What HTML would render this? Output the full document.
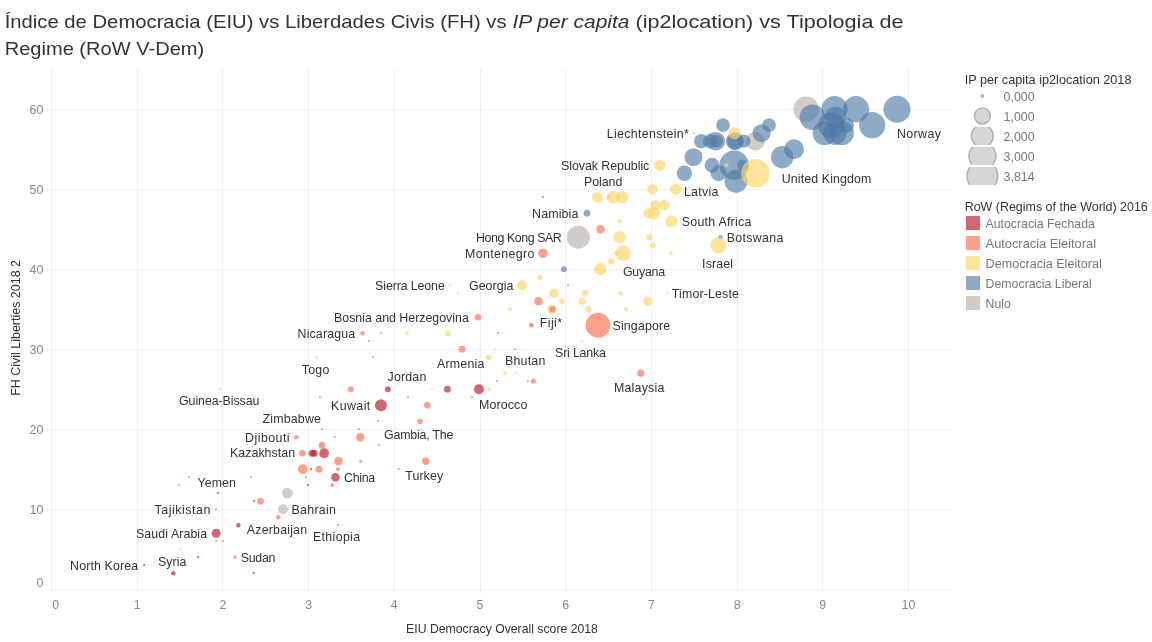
<!DOCTYPE html><html><head><meta charset="utf-8"><style>html,body{margin:0;padding:0;background:#fff;}svg{display:block;will-change:transform;}text{font-family:"Liberation Sans",sans-serif;}</style></head><body>
<svg width="1152" height="642" viewBox="0 0 1152 642">
<rect width="1152" height="642" fill="#fff"/>
<text y="27.8" font-size="19" fill="#333"><tspan x="4.7" textLength="507.5" lengthAdjust="spacingAndGlyphs">Índice de Democracia (EIU) vs Liberdades Civis (FH) vs </tspan><tspan x="512.5" font-style="italic" textLength="117" lengthAdjust="spacingAndGlyphs">IP per capita</tspan><tspan x="629.5" textLength="274" lengthAdjust="spacingAndGlyphs"> (ip2location) vs Tipologia de</tspan></text>
<text x="4.7" y="54.7" font-size="19" fill="#333" textLength="199.5" lengthAdjust="spacingAndGlyphs">Regime (RoW V-Dem)</text>
<line x1="51.5" y1="69" x2="51.5" y2="594" stroke="#f0f0f0" stroke-width="1"/>
<line x1="137.5" y1="69" x2="137.5" y2="594" stroke="#f0f0f0" stroke-width="1"/>
<line x1="222.5" y1="69" x2="222.5" y2="594" stroke="#f0f0f0" stroke-width="1"/>
<line x1="308.5" y1="69" x2="308.5" y2="594" stroke="#f0f0f0" stroke-width="1"/>
<line x1="394.5" y1="69" x2="394.5" y2="594" stroke="#f0f0f0" stroke-width="1"/>
<line x1="480.5" y1="69" x2="480.5" y2="594" stroke="#f0f0f0" stroke-width="1"/>
<line x1="565.5" y1="69" x2="565.5" y2="594" stroke="#f0f0f0" stroke-width="1"/>
<line x1="651.5" y1="69" x2="651.5" y2="594" stroke="#f0f0f0" stroke-width="1"/>
<line x1="737.5" y1="69" x2="737.5" y2="594" stroke="#f0f0f0" stroke-width="1"/>
<line x1="822.5" y1="69" x2="822.5" y2="594" stroke="#f0f0f0" stroke-width="1"/>
<line x1="908.5" y1="69" x2="908.5" y2="594" stroke="#f0f0f0" stroke-width="1"/>
<line x1="46" y1="589.5" x2="954" y2="589.5" stroke="#f0f0f0" stroke-width="1"/>
<line x1="46" y1="509.5" x2="954" y2="509.5" stroke="#f0f0f0" stroke-width="1"/>
<line x1="46" y1="429.5" x2="954" y2="429.5" stroke="#f0f0f0" stroke-width="1"/>
<line x1="46" y1="349.5" x2="954" y2="349.5" stroke="#f0f0f0" stroke-width="1"/>
<line x1="46" y1="269.5" x2="954" y2="269.5" stroke="#f0f0f0" stroke-width="1"/>
<line x1="46" y1="189.5" x2="954" y2="189.5" stroke="#f0f0f0" stroke-width="1"/>
<line x1="46" y1="109.5" x2="954" y2="109.5" stroke="#f0f0f0" stroke-width="1"/>
<text x="43.4" y="586.5" font-size="12.4" fill="#888" text-anchor="end">0</text>
<text x="43.4" y="514.0" font-size="12.4" fill="#888" text-anchor="end">10</text>
<text x="43.4" y="434.0" font-size="12.4" fill="#888" text-anchor="end">20</text>
<text x="43.4" y="354.0" font-size="12.4" fill="#888" text-anchor="end">30</text>
<text x="43.4" y="274.0" font-size="12.4" fill="#888" text-anchor="end">40</text>
<text x="43.4" y="194.0" font-size="12.4" fill="#888" text-anchor="end">50</text>
<text x="43.4" y="114.0" font-size="12.4" fill="#888" text-anchor="end">60</text>
<text x="55.8" y="609" font-size="12.4" fill="#888" text-anchor="middle">0</text>
<text x="137.2" y="609" font-size="12.4" fill="#888" text-anchor="middle">1</text>
<text x="222.9" y="609" font-size="12.4" fill="#888" text-anchor="middle">2</text>
<text x="308.6" y="609" font-size="12.4" fill="#888" text-anchor="middle">3</text>
<text x="394.3" y="609" font-size="12.4" fill="#888" text-anchor="middle">4</text>
<text x="480.0" y="609" font-size="12.4" fill="#888" text-anchor="middle">5</text>
<text x="565.7" y="609" font-size="12.4" fill="#888" text-anchor="middle">6</text>
<text x="651.4" y="609" font-size="12.4" fill="#888" text-anchor="middle">7</text>
<text x="737.1" y="609" font-size="12.4" fill="#888" text-anchor="middle">8</text>
<text x="822.8" y="609" font-size="12.4" fill="#888" text-anchor="middle">9</text>
<text x="908.5" y="609" font-size="12.4" fill="#888" text-anchor="middle">10</text>
<text x="502" y="632.5" font-size="12.4" fill="#333" text-anchor="middle" textLength="191.8" lengthAdjust="spacingAndGlyphs">EIU Democracy Overall score 2018</text>
<text transform="translate(20,395.8) rotate(-90)" x="0" y="0" font-size="12.4" fill="#333" textLength="135.8" lengthAdjust="spacingAndGlyphs">FH Civil Liberties 2018 2</text>
<circle cx="287.4" cy="493.20000000000005" r="5.4" fill="#BAB0AC" fill-opacity="0.65"/>
<circle cx="283.0" cy="509.20000000000005" r="4.9" fill="#BAB0AC" fill-opacity="0.65"/>
<circle cx="578.3" cy="237.20000000000005" r="11.5" fill="#BAB0AC" fill-opacity="0.65"/>
<circle cx="694.0" cy="133.20000000000005" r="1.1" fill="#BAB0AC" fill-opacity="0.65"/>
<circle cx="755.4" cy="141.20000000000005" r="9.35" fill="#BAB0AC" fill-opacity="0.65"/>
<circle cx="806.2" cy="109.20000000000005" r="12.8" fill="#BAB0AC" fill-opacity="0.65"/>
<circle cx="563.9" cy="269.20000000000005" r="2.9" fill="#4E79A7" fill-opacity="0.63"/>
<circle cx="587.0" cy="213.20000000000005" r="3.4" fill="#4E79A7" fill-opacity="0.63"/>
<circle cx="542.9" cy="197.20000000000005" r="1.1" fill="#4E79A7" fill-opacity="0.63"/>
<circle cx="720.4" cy="237.20000000000005" r="2.3" fill="#4E79A7" fill-opacity="0.63"/>
<circle cx="723.0" cy="125.20000000000005" r="6.85" fill="#4E79A7" fill-opacity="0.63"/>
<circle cx="769.1" cy="125.20000000000005" r="6.85" fill="#4E79A7" fill-opacity="0.63"/>
<circle cx="761.6" cy="133.20000000000005" r="9.0" fill="#4E79A7" fill-opacity="0.63"/>
<circle cx="701.2" cy="141.20000000000005" r="7.2" fill="#4E79A7" fill-opacity="0.63"/>
<circle cx="710.2" cy="141.20000000000005" r="7.2" fill="#4E79A7" fill-opacity="0.63"/>
<circle cx="715.7" cy="141.20000000000005" r="9.3" fill="#4E79A7" fill-opacity="0.63"/>
<circle cx="716.5" cy="141.20000000000005" r="6.2" fill="#4E79A7" fill-opacity="0.63"/>
<circle cx="734.9" cy="141.20000000000005" r="9.0" fill="#4E79A7" fill-opacity="0.63"/>
<circle cx="735.0" cy="141.20000000000005" r="7.8" fill="#4E79A7" fill-opacity="0.63"/>
<circle cx="743.8" cy="141.20000000000005" r="6.6" fill="#4E79A7" fill-opacity="0.63"/>
<circle cx="693.5" cy="157.20000000000005" r="9.0" fill="#4E79A7" fill-opacity="0.63"/>
<circle cx="782.2" cy="157.20000000000005" r="11.2" fill="#4E79A7" fill-opacity="0.63"/>
<circle cx="794.0" cy="149.20000000000005" r="10.0" fill="#4E79A7" fill-opacity="0.63"/>
<circle cx="734.2" cy="165.20000000000005" r="14.7" fill="#4E79A7" fill-opacity="0.63"/>
<circle cx="712.1" cy="165.20000000000005" r="7.5" fill="#4E79A7" fill-opacity="0.63"/>
<circle cx="742.6" cy="165.20000000000005" r="5.6" fill="#4E79A7" fill-opacity="0.63"/>
<circle cx="684.4" cy="173.20000000000005" r="7.7" fill="#4E79A7" fill-opacity="0.63"/>
<circle cx="718.6" cy="173.20000000000005" r="8.0" fill="#4E79A7" fill-opacity="0.63"/>
<circle cx="736.0" cy="181.20000000000005" r="11.5" fill="#4E79A7" fill-opacity="0.63"/>
<circle cx="812.4" cy="117.20000000000005" r="12.8" fill="#4E79A7" fill-opacity="0.63"/>
<circle cx="834.5" cy="109.20000000000005" r="13.1" fill="#4E79A7" fill-opacity="0.63"/>
<circle cx="856.0" cy="109.20000000000005" r="13.1" fill="#4E79A7" fill-opacity="0.63"/>
<circle cx="897.0" cy="109.20000000000005" r="13.5" fill="#4E79A7" fill-opacity="0.63"/>
<circle cx="872.2" cy="125.20000000000005" r="13.1" fill="#4E79A7" fill-opacity="0.63"/>
<circle cx="835.4" cy="117.20000000000005" r="10.7" fill="#4E79A7" fill-opacity="0.63"/>
<circle cx="831.2" cy="125.20000000000005" r="13.0" fill="#4E79A7" fill-opacity="0.63"/>
<circle cx="846.6" cy="125.20000000000005" r="7.5" fill="#4E79A7" fill-opacity="0.63"/>
<circle cx="824.6" cy="133.20000000000005" r="12.0" fill="#4E79A7" fill-opacity="0.63"/>
<circle cx="834.9" cy="133.20000000000005" r="11.7" fill="#4E79A7" fill-opacity="0.63"/>
<circle cx="841.9" cy="133.20000000000005" r="12.0" fill="#4E79A7" fill-opacity="0.63"/>
<circle cx="180.8" cy="549.2" r="1.1" fill="#FDD565" fill-opacity="0.65"/>
<circle cx="220.8" cy="389.20000000000005" r="1.1" fill="#FDD565" fill-opacity="0.65"/>
<circle cx="432.0" cy="389.20000000000005" r="1.1" fill="#FDD565" fill-opacity="0.65"/>
<circle cx="450.0" cy="285.20000000000005" r="1.1" fill="#FDD565" fill-opacity="0.65"/>
<circle cx="458.0" cy="293.20000000000005" r="1.1" fill="#FDD565" fill-opacity="0.65"/>
<circle cx="407.0" cy="333.20000000000005" r="1.8" fill="#FDD565" fill-opacity="0.65"/>
<circle cx="448.0" cy="333.20000000000005" r="2.8" fill="#FDD565" fill-opacity="0.65"/>
<circle cx="316.7" cy="357.20000000000005" r="1.5" fill="#FDD565" fill-opacity="0.65"/>
<circle cx="488.8" cy="357.20000000000005" r="2.8" fill="#FDD565" fill-opacity="0.65"/>
<circle cx="488.9" cy="389.20000000000005" r="2.0" fill="#FDD565" fill-opacity="0.65"/>
<circle cx="494.8" cy="349.20000000000005" r="1.1" fill="#FDD565" fill-opacity="0.65"/>
<circle cx="505.0" cy="373.20000000000005" r="1.9" fill="#FDD565" fill-opacity="0.65"/>
<circle cx="515.0" cy="373.20000000000005" r="1.1" fill="#FDD565" fill-opacity="0.65"/>
<circle cx="521.9" cy="285.20000000000005" r="4.9" fill="#FDD565" fill-opacity="0.65"/>
<circle cx="521.9" cy="293.20000000000005" r="1.1" fill="#FDD565" fill-opacity="0.65"/>
<circle cx="553.9" cy="293.20000000000005" r="4.8" fill="#FDD565" fill-opacity="0.65"/>
<circle cx="585.3" cy="293.20000000000005" r="3.3" fill="#FDD565" fill-opacity="0.65"/>
<circle cx="620.4" cy="293.20000000000005" r="2.2" fill="#FDD565" fill-opacity="0.65"/>
<circle cx="667.0" cy="293.20000000000005" r="1.1" fill="#FDD565" fill-opacity="0.65"/>
<circle cx="561.8" cy="301.20000000000005" r="2.8" fill="#FDD565" fill-opacity="0.65"/>
<circle cx="582.0" cy="301.20000000000005" r="3.4" fill="#FDD565" fill-opacity="0.65"/>
<circle cx="647.8" cy="301.20000000000005" r="4.7" fill="#FDD565" fill-opacity="0.65"/>
<circle cx="510.0" cy="309.20000000000005" r="1.9" fill="#FDD565" fill-opacity="0.65"/>
<circle cx="552.0" cy="309.20000000000005" r="4.8" fill="#FDD565" fill-opacity="0.65"/>
<circle cx="588.4" cy="309.20000000000005" r="3.3" fill="#FDD565" fill-opacity="0.65"/>
<circle cx="626.3" cy="309.20000000000005" r="2.2" fill="#FDD565" fill-opacity="0.65"/>
<circle cx="582.0" cy="341.20000000000005" r="1.1" fill="#FDD565" fill-opacity="0.65"/>
<circle cx="600.3" cy="269.20000000000005" r="6.1" fill="#FDD565" fill-opacity="0.65"/>
<circle cx="539.8" cy="277.20000000000005" r="2.8" fill="#FDD565" fill-opacity="0.65"/>
<circle cx="578.0" cy="237.20000000000005" r="1.1" fill="#FDD565" fill-opacity="0.65"/>
<circle cx="597.4" cy="197.20000000000005" r="5.3" fill="#FDD565" fill-opacity="0.65"/>
<circle cx="613.5" cy="197.20000000000005" r="6.5" fill="#FDD565" fill-opacity="0.65"/>
<circle cx="622.4" cy="197.20000000000005" r="6.0" fill="#FDD565" fill-opacity="0.65"/>
<circle cx="608.6" cy="197.20000000000005" r="2.0" fill="#FDD565" fill-opacity="0.65"/>
<circle cx="652.4" cy="189.20000000000005" r="5.3" fill="#FDD565" fill-opacity="0.65"/>
<circle cx="675.7" cy="189.20000000000005" r="5.8" fill="#FDD565" fill-opacity="0.65"/>
<circle cx="655.1" cy="205.20000000000005" r="5.0" fill="#FDD565" fill-opacity="0.65"/>
<circle cx="664.3" cy="205.20000000000005" r="5.3" fill="#FDD565" fill-opacity="0.65"/>
<circle cx="648.4" cy="213.20000000000005" r="5.0" fill="#FDD565" fill-opacity="0.65"/>
<circle cx="653.8" cy="213.20000000000005" r="6.0" fill="#FDD565" fill-opacity="0.65"/>
<circle cx="671.3" cy="221.20000000000005" r="6.0" fill="#FDD565" fill-opacity="0.65"/>
<circle cx="619.5" cy="221.20000000000005" r="2.1" fill="#FDD565" fill-opacity="0.65"/>
<circle cx="619.5" cy="237.20000000000005" r="6.2" fill="#FDD565" fill-opacity="0.65"/>
<circle cx="649.5" cy="237.20000000000005" r="3.1" fill="#FDD565" fill-opacity="0.65"/>
<circle cx="653.0" cy="245.20000000000005" r="2.8" fill="#FDD565" fill-opacity="0.65"/>
<circle cx="623.0" cy="253.20000000000005" r="7.8" fill="#FDD565" fill-opacity="0.65"/>
<circle cx="617.0" cy="253.20000000000005" r="2.6" fill="#FDD565" fill-opacity="0.65"/>
<circle cx="671.0" cy="253.20000000000005" r="1.9" fill="#FDD565" fill-opacity="0.65"/>
<circle cx="611.4" cy="261.20000000000005" r="3.3" fill="#FDD565" fill-opacity="0.65"/>
<circle cx="718.5" cy="245.20000000000005" r="8.1" fill="#FDD565" fill-opacity="0.65"/>
<circle cx="659.7" cy="165.20000000000005" r="5.8" fill="#FDD565" fill-opacity="0.65"/>
<circle cx="734.5" cy="133.20000000000005" r="6.2" fill="#FDD565" fill-opacity="0.65"/>
<circle cx="726.4" cy="165.20000000000005" r="2.2" fill="#FDD565" fill-opacity="0.65"/>
<circle cx="755.4" cy="173.20000000000005" r="14.3" fill="#FDD565" fill-opacity="0.65"/>
<circle cx="216.0" cy="509.20000000000005" r="1.1" fill="#FA6D4E" fill-opacity="0.65"/>
<circle cx="216.0" cy="541.2" r="1.1" fill="#FA6D4E" fill-opacity="0.65"/>
<circle cx="223.0" cy="541.2" r="1.1" fill="#FA6D4E" fill-opacity="0.65"/>
<circle cx="234.9" cy="557.2" r="1.8" fill="#FA6D4E" fill-opacity="0.65"/>
<circle cx="188.8" cy="477.20000000000005" r="1.1" fill="#FA6D4E" fill-opacity="0.65"/>
<circle cx="178.9" cy="485.20000000000005" r="1.1" fill="#FA6D4E" fill-opacity="0.65"/>
<circle cx="260.4" cy="501.20000000000005" r="3.4" fill="#FA6D4E" fill-opacity="0.65"/>
<circle cx="278.3" cy="517.2" r="2.3" fill="#FA6D4E" fill-opacity="0.65"/>
<circle cx="337.8" cy="525.2" r="1.1" fill="#FA6D4E" fill-opacity="0.65"/>
<circle cx="350.8" cy="389.20000000000005" r="3.0" fill="#FA6D4E" fill-opacity="0.65"/>
<circle cx="319.9" cy="397.20000000000005" r="1.1" fill="#FA6D4E" fill-opacity="0.65"/>
<circle cx="407.9" cy="397.20000000000005" r="1.1" fill="#FA6D4E" fill-opacity="0.65"/>
<circle cx="427.3" cy="405.20000000000005" r="3.3" fill="#FA6D4E" fill-opacity="0.65"/>
<circle cx="377.8" cy="421.20000000000005" r="1.1" fill="#FA6D4E" fill-opacity="0.65"/>
<circle cx="420.0" cy="421.20000000000005" r="2.8" fill="#FA6D4E" fill-opacity="0.65"/>
<circle cx="322.0" cy="429.20000000000005" r="1.1" fill="#FA6D4E" fill-opacity="0.65"/>
<circle cx="359.0" cy="429.20000000000005" r="1.1" fill="#FA6D4E" fill-opacity="0.65"/>
<circle cx="296.4" cy="437.20000000000005" r="2.3" fill="#FA6D4E" fill-opacity="0.65"/>
<circle cx="334.9" cy="437.20000000000005" r="1.1" fill="#FA6D4E" fill-opacity="0.65"/>
<circle cx="360.3" cy="437.20000000000005" r="4.2" fill="#FA6D4E" fill-opacity="0.65"/>
<circle cx="378.8" cy="445.20000000000005" r="1.1" fill="#FA6D4E" fill-opacity="0.65"/>
<circle cx="322.0" cy="445.20000000000005" r="3.4" fill="#FA6D4E" fill-opacity="0.65"/>
<circle cx="302.4" cy="453.20000000000005" r="3.3" fill="#FA6D4E" fill-opacity="0.65"/>
<circle cx="425.8" cy="461.20000000000005" r="3.7" fill="#FA6D4E" fill-opacity="0.65"/>
<circle cx="338.4" cy="461.20000000000005" r="4.3" fill="#FA6D4E" fill-opacity="0.65"/>
<circle cx="360.7" cy="461.20000000000005" r="1.5" fill="#FA6D4E" fill-opacity="0.65"/>
<circle cx="302.9" cy="469.20000000000005" r="4.9" fill="#FA6D4E" fill-opacity="0.65"/>
<circle cx="319.0" cy="469.20000000000005" r="3.5" fill="#FA6D4E" fill-opacity="0.65"/>
<circle cx="337.9" cy="469.20000000000005" r="1.9" fill="#FA6D4E" fill-opacity="0.65"/>
<circle cx="398.7" cy="469.20000000000005" r="1.1" fill="#FA6D4E" fill-opacity="0.65"/>
<circle cx="251.0" cy="477.20000000000005" r="1.1" fill="#FA6D4E" fill-opacity="0.65"/>
<circle cx="305.9" cy="477.20000000000005" r="1.1" fill="#FA6D4E" fill-opacity="0.65"/>
<circle cx="332.1" cy="485.20000000000005" r="1.9" fill="#FA6D4E" fill-opacity="0.65"/>
<circle cx="478.0" cy="317.20000000000005" r="3.3" fill="#FA6D4E" fill-opacity="0.65"/>
<circle cx="362.5" cy="333.20000000000005" r="2.2" fill="#FA6D4E" fill-opacity="0.65"/>
<circle cx="381.2" cy="333.20000000000005" r="1.1" fill="#FA6D4E" fill-opacity="0.65"/>
<circle cx="368.8" cy="341.20000000000005" r="1.1" fill="#FA6D4E" fill-opacity="0.65"/>
<circle cx="462.0" cy="349.20000000000005" r="3.4" fill="#FA6D4E" fill-opacity="0.65"/>
<circle cx="372.8" cy="357.20000000000005" r="1.1" fill="#FA6D4E" fill-opacity="0.65"/>
<circle cx="472.0" cy="397.20000000000005" r="1.1" fill="#FA6D4E" fill-opacity="0.65"/>
<circle cx="515.0" cy="349.20000000000005" r="1.1" fill="#FA6D4E" fill-opacity="0.65"/>
<circle cx="497.9" cy="333.20000000000005" r="1.1" fill="#FA6D4E" fill-opacity="0.65"/>
<circle cx="496.9" cy="381.20000000000005" r="1.1" fill="#FA6D4E" fill-opacity="0.65"/>
<circle cx="527.8" cy="381.20000000000005" r="1.1" fill="#FA6D4E" fill-opacity="0.65"/>
<circle cx="533.4" cy="381.20000000000005" r="2.5" fill="#FA6D4E" fill-opacity="0.65"/>
<circle cx="567.9" cy="285.20000000000005" r="1.1" fill="#FA6D4E" fill-opacity="0.65"/>
<circle cx="538.5" cy="301.20000000000005" r="4.3" fill="#FA6D4E" fill-opacity="0.65"/>
<circle cx="598.0" cy="325.20000000000005" r="12.4" fill="#FA6D4E" fill-opacity="0.65"/>
<circle cx="640.8" cy="373.20000000000005" r="3.6" fill="#FA6D4E" fill-opacity="0.65"/>
<circle cx="543.0" cy="253.20000000000005" r="4.8" fill="#FA6D4E" fill-opacity="0.65"/>
<circle cx="600.5" cy="229.20000000000005" r="4.2" fill="#FA6D4E" fill-opacity="0.65"/>
<circle cx="238.3" cy="525.2" r="2.2" fill="#BA1426" fill-opacity="0.65"/>
<circle cx="216.2" cy="533.2" r="4.5" fill="#BA1426" fill-opacity="0.65"/>
<circle cx="198.0" cy="557.2" r="1.1" fill="#BA1426" fill-opacity="0.65"/>
<circle cx="144.2" cy="565.2" r="1.1" fill="#BA1426" fill-opacity="0.65"/>
<circle cx="173.3" cy="573.2" r="2.2" fill="#BA1426" fill-opacity="0.65"/>
<circle cx="253.7" cy="573.2" r="1.1" fill="#BA1426" fill-opacity="0.65"/>
<circle cx="217.9" cy="493.20000000000005" r="1.1" fill="#BA1426" fill-opacity="0.65"/>
<circle cx="254.0" cy="501.20000000000005" r="1.1" fill="#BA1426" fill-opacity="0.65"/>
<circle cx="387.8" cy="389.20000000000005" r="3.0" fill="#BA1426" fill-opacity="0.65"/>
<circle cx="380.9" cy="405.20000000000005" r="6.0" fill="#BA1426" fill-opacity="0.65"/>
<circle cx="312.1" cy="453.20000000000005" r="3.5" fill="#BA1426" fill-opacity="0.65"/>
<circle cx="314.3" cy="453.20000000000005" r="3.5" fill="#BA1426" fill-opacity="0.65"/>
<circle cx="324.1" cy="453.20000000000005" r="4.9" fill="#BA1426" fill-opacity="0.65"/>
<circle cx="311.0" cy="469.20000000000005" r="1.1" fill="#BA1426" fill-opacity="0.65"/>
<circle cx="335.5" cy="477.20000000000005" r="4.3" fill="#BA1426" fill-opacity="0.65"/>
<circle cx="307.9" cy="485.20000000000005" r="1.1" fill="#BA1426" fill-opacity="0.65"/>
<circle cx="447.4" cy="389.20000000000005" r="3.4" fill="#BA1426" fill-opacity="0.65"/>
<circle cx="479.0" cy="389.20000000000005" r="5.0" fill="#BA1426" fill-opacity="0.65"/>
<circle cx="552.3" cy="309.20000000000005" r="3.0" fill="#FA9468" fill-opacity="1.0"/>
<circle cx="598.6" cy="317.20000000000005" r="2.2" fill="#FA9468" fill-opacity="1.0"/>
<circle cx="531.3" cy="325.20000000000005" r="2.3" fill="#FA9468" fill-opacity="1.0"/>
<text x="154.6" y="514.2" font-size="12.4" fill="#333" textLength="55.8" lengthAdjust="spacing">Tajikistan</text>
<text x="136.0" y="538.0" font-size="12.4" fill="#333" textLength="71.1" lengthAdjust="spacing">Saudi Arabia</text>
<text x="158.0" y="565.8" font-size="12.4" fill="#333" textLength="28.4" lengthAdjust="spacing">Syria</text>
<text x="70.1" y="570.0" font-size="12.4" fill="#333" textLength="68.0" lengthAdjust="spacing">North Korea</text>
<text x="197.6" y="486.7" font-size="12.4" fill="#333" textLength="38.3" lengthAdjust="spacing">Yemen</text>
<text x="291.6" y="513.8" font-size="12.4" fill="#333" textLength="44.3" lengthAdjust="spacing">Bahrain</text>
<text x="246.8" y="533.8" font-size="12.4" fill="#333" textLength="60.3" lengthAdjust="spacing">Azerbaijan</text>
<text x="313.0" y="540.5" font-size="12.4" fill="#333" textLength="47.1" lengthAdjust="spacing">Ethiopia</text>
<text x="240.8" y="561.7" font-size="12.4" fill="#333" textLength="34.6" lengthAdjust="spacing">Sudan</text>
<text x="179.0" y="404.8" font-size="12.4" fill="#333" textLength="80.4" lengthAdjust="spacing">Guinea-Bissau</text>
<text x="331.0" y="409.6" font-size="12.4" fill="#333" textLength="39.3" lengthAdjust="spacing">Kuwait</text>
<text x="262.5" y="422.7" font-size="12.4" fill="#333" textLength="58.4" lengthAdjust="spacing">Zimbabwe</text>
<text x="245.1" y="441.7" font-size="12.4" fill="#333" textLength="44.5" lengthAdjust="spacing">Djibouti</text>
<text x="384.1" y="438.6" font-size="12.4" fill="#333" textLength="69.3" lengthAdjust="spacing">Gambia, The</text>
<text x="230.0" y="457.1" font-size="12.4" fill="#333" textLength="65.1" lengthAdjust="spacing">Kazakhstan</text>
<text x="344.1" y="481.7" font-size="12.4" fill="#333" textLength="31.0" lengthAdjust="spacing">China</text>
<text x="405.2" y="479.7" font-size="12.4" fill="#333" textLength="37.9" lengthAdjust="spacing">Turkey</text>
<text x="479.1" y="408.6" font-size="12.4" fill="#333" textLength="48.2" lengthAdjust="spacing">Morocco</text>
<text x="297.6" y="337.7" font-size="12.4" fill="#333" textLength="57.5" lengthAdjust="spacing">Nicaragua</text>
<text x="301.8" y="373.6" font-size="12.4" fill="#333" textLength="27.5" lengthAdjust="spacing">Togo</text>
<text x="375.1" y="289.7" font-size="12.4" fill="#333" textLength="69.7" lengthAdjust="spacing">Sierra Leone</text>
<text x="469.0" y="289.7" font-size="12.4" fill="#333" textLength="44.4" lengthAdjust="spacing">Georgia</text>
<text x="334.0" y="321.8" font-size="12.4" fill="#333" textLength="134.8" lengthAdjust="spacing">Bosnia and Herzegovina</text>
<text x="437.1" y="367.5" font-size="12.4" fill="#333" textLength="47.2" lengthAdjust="spacing">Armenia</text>
<text x="387.6" y="380.7" font-size="12.4" fill="#333" textLength="38.7" lengthAdjust="spacing">Jordan</text>
<text x="539.8" y="326.6" font-size="12.4" fill="#333" textLength="22.3" lengthAdjust="spacing">Fiji*</text>
<text x="612.6" y="329.8" font-size="12.4" fill="#333" textLength="57.5" lengthAdjust="spacing">Singapore</text>
<text x="555.1" y="356.8" font-size="12.4" fill="#333" textLength="50.8" lengthAdjust="spacing">Sri Lanka</text>
<text x="504.9" y="365.4" font-size="12.4" fill="#333" textLength="40.5" lengthAdjust="spacing">Bhutan</text>
<text x="614.0" y="391.7" font-size="12.4" fill="#333" textLength="50.3" lengthAdjust="spacing">Malaysia</text>
<text x="681.8" y="225.8" font-size="12.4" fill="#333" textLength="69.5" lengthAdjust="spacing">South Africa</text>
<text x="726.8" y="241.5" font-size="12.4" fill="#333" textLength="56.6" lengthAdjust="spacing">Botswana</text>
<text x="702.1" y="267.5" font-size="12.4" fill="#333" textLength="31.0" lengthAdjust="spacing">Israel</text>
<text x="623.0" y="275.8" font-size="12.4" fill="#333" textLength="42.1" lengthAdjust="spacing">Guyana</text>
<text x="671.8" y="297.5" font-size="12.4" fill="#333" textLength="67.1" lengthAdjust="spacing">Timor-Leste</text>
<text x="781.8" y="182.5" font-size="12.4" fill="#333" textLength="89.6" lengthAdjust="spacing">United Kingdom</text>
<text x="683.9" y="195.8" font-size="12.4" fill="#333" textLength="34.5" lengthAdjust="spacing">Latvia</text>
<text x="584.0" y="185.8" font-size="12.4" fill="#333" textLength="38.3" lengthAdjust="spacing">Poland</text>
<text x="532.1" y="217.7" font-size="12.4" fill="#333" textLength="46.3" lengthAdjust="spacing">Namibia</text>
<text x="476.0" y="242.0" font-size="12.4" fill="#333" textLength="85.8" lengthAdjust="spacing">Hong Kong SAR</text>
<text x="465.1" y="257.5" font-size="12.4" fill="#333" textLength="69.2" lengthAdjust="spacing">Montenegro</text>
<text x="606.8" y="137.5" font-size="12.4" fill="#333" textLength="82.0" lengthAdjust="spacing">Liechtenstein*</text>
<text x="561.0" y="169.5" font-size="12.4" fill="#333" textLength="88.3" lengthAdjust="spacing">Slovak Republic</text>
<text x="897.0" y="137.5" font-size="12.4" fill="#333" textLength="43.9" lengthAdjust="spacing">Norway</text>
<text x="964.7" y="84" font-size="12.4" fill="#333" textLength="166.8" lengthAdjust="spacingAndGlyphs">IP per capita ip2location 2018</text>
<defs>
<clipPath id="c0"><rect x="955" y="87" width="60" height="18"/></clipPath>
<clipPath id="c1"><rect x="955" y="107" width="60" height="18"/></clipPath>
<clipPath id="c2"><rect x="955" y="127" width="60" height="18"/></clipPath>
<clipPath id="c3"><rect x="955" y="147" width="60" height="18"/></clipPath>
<clipPath id="c4"><rect x="955" y="167" width="60" height="18"/></clipPath>
</defs>
<circle cx="982.4" cy="96" r="1.8" fill="#aaa"/>
<text x="1003.6" y="101" font-size="12.4" fill="#777">0,000</text>
<g clip-path="url(#c1)"><circle cx="982.4" cy="116" r="7.949999999999999" fill="#d6d6d6" stroke="#b2b2b2" stroke-width="1.5"/></g>
<text x="1003.6" y="121" font-size="12.4" fill="#777">1,000</text>
<g clip-path="url(#c2)"><circle cx="982.4" cy="136" r="10.9" fill="#d6d6d6" stroke="#b2b2b2" stroke-width="1.5"/></g>
<text x="1003.6" y="141" font-size="12.4" fill="#777">2,000</text>
<g clip-path="url(#c3)"><circle cx="982.4" cy="156" r="13.45" fill="#d6d6d6" stroke="#b2b2b2" stroke-width="1.5"/></g>
<text x="1003.6" y="161" font-size="12.4" fill="#777">3,000</text>
<g clip-path="url(#c4)"><circle cx="982.4" cy="176" r="15.45" fill="#d6d6d6" stroke="#b2b2b2" stroke-width="1.5"/></g>
<text x="1003.6" y="181" font-size="12.4" fill="#777">3,814</text>
<text x="964.7" y="210.6" font-size="12.4" fill="#333" textLength="183.1" lengthAdjust="spacingAndGlyphs">RoW (Regims of the World) 2016</text>
<rect x="966" y="216" width="14" height="14" fill="#BA1426" fill-opacity="0.65"/>
<text x="985.6" y="227.6" font-size="12.4" fill="#777" textLength="109.2" lengthAdjust="spacingAndGlyphs">Autocracia Fechada</text>
<rect x="966" y="236" width="14" height="14" fill="#FA6D4E" fill-opacity="0.65"/>
<text x="985.6" y="247.6" font-size="12.4" fill="#777" textLength="110.4" lengthAdjust="spacingAndGlyphs">Autocracia Eleitoral</text>
<rect x="966" y="256" width="14" height="14" fill="#FDD565" fill-opacity="0.65"/>
<text x="985.6" y="267.6" font-size="12.4" fill="#777" textLength="116.1" lengthAdjust="spacingAndGlyphs">Democracia Eleitoral</text>
<rect x="966" y="276" width="14" height="14" fill="#4E79A7" fill-opacity="0.63"/>
<text x="985.6" y="287.6" font-size="12.4" fill="#777" textLength="106.2" lengthAdjust="spacingAndGlyphs">Democracia Liberal</text>
<rect x="966" y="296" width="14" height="14" fill="#BAB0AC" fill-opacity="0.65"/>
<text x="985.6" y="307.6" font-size="12.4" fill="#777" textLength="25.2" lengthAdjust="spacingAndGlyphs">Nulo</text>
</svg></body></html>
